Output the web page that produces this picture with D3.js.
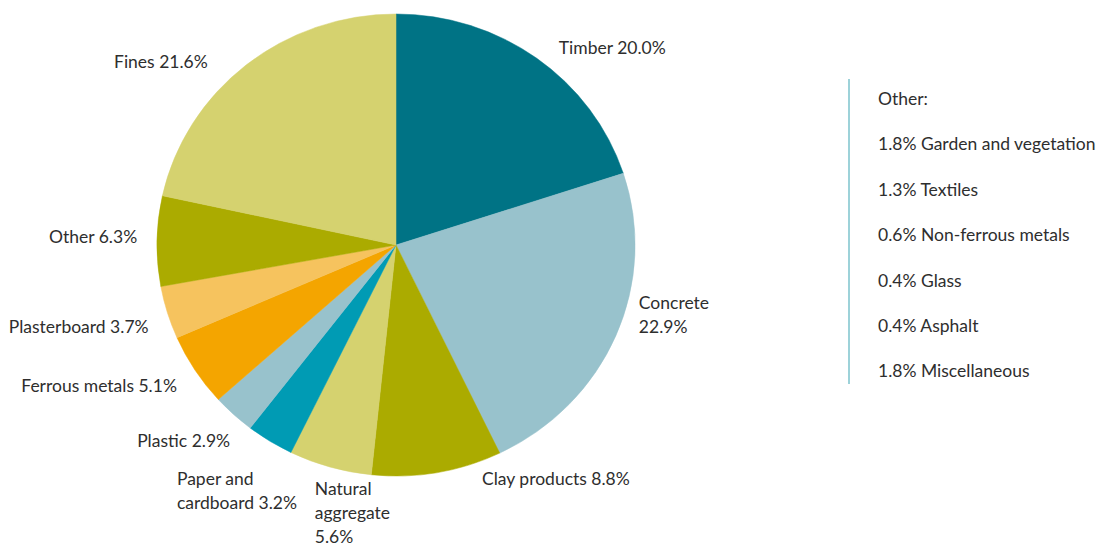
<!DOCTYPE html>
<html>
<head>
<meta charset="utf-8">
<script src="https://cdn.jsdelivr.net/npm/d3@7"></script>
<style>
  body { margin: 0; background: #fff; }
  text { font-family: Lato, "Open Sans", sans-serif; font-size: 17.5px; fill: #2e2e2e; }
</style>
</head>
<body>
<svg class="chart"></svg>
<script>
// waste composition, clockwise from 12 o'clock
var categories = ["Timber", "Concrete", "Clay products", "Natural aggregate", "Paper and cardboard",
  "Plastic", "Ferrous metals", "Plasterboard", "Other", "Fines"];
var shares = [20.0, 22.9, 8.8, 5.6, 3.2, 2.9, 5.1, 3.7, 6.3, 21.6];
var sliceColors = ["#007385", "#98c2cc", "#abab00", "#d5d26f", "#009bb4",
  "#98c2cc", "#f4a500", "#f6c35e", "#abab00", "#d5d26f"];
// how each label breaks into lines
var labelLines = [
  ["Timber 20.0%"], ["Concrete", "22.9%"], ["Clay products 8.8%"], ["Natural", "aggregate", "5.6%"],
  ["Paper and", "cardboard 3.2%"], ["Plastic 2.9%"], ["Ferrous metals 5.1%"], ["Plasterboard 3.7%"],
  ["Other 6.3%"], ["Fines 21.6%"]
];
var otherTitle = "Other:";
var otherNames = ["Garden and vegetation", "Textiles", "Non-ferrous metals", "Glass", "Asphalt", "Miscellaneous"];
var otherShares = [1.8, 1.3, 0.6, 0.4, 0.4, 1.8];

var ui = {
  width: 1102,
  height: 545,
  cx: 396,
  cy: 245,
  r: 231,
  stretch: 1.035,
  labelPad: 22,
  lineH: 24,
  legendX: 849,
  legendTop: 79,
  legendBottom: 384,
  legendStep: 45.4
};

// hand nudges [dx, dy, anchor] so labels sit like the original
var labelNudge = {
  "Timber": [9, 9, "start"],
  "Concrete": [2, -28, "start"],
  "Clay products": [41, -14, "start"],
  "Natural aggregate": [-9, 26, "start"],
  "Paper and cardboard": [-81, 32, "start"],
  "Plastic": [12, 11, "end"],
  "Ferrous metals": [1, 5, "end"],
  "Plasterboard": [3, 9, "end"],
  "Other": [3, -3, "end"],
  "Fines": [-24, 15, "end"]
};

var chart = d3.select(".chart")
  .attr("width", ui.width)
  .attr("height", ui.height);

var data = categories.map(function(c, i) {
  return { name: c, value: shares[i], color: sliceColors[i], lines: labelLines[i] };
});

var pie = d3.pie().sort(null).value(function(d) { return d.value; });
var arcs = pie(data);
var arc = d3.arc().innerRadius(0).outerRadius(ui.r);

var pieG = chart.append("g")
  .attr("transform", "translate(" + ui.cx + "," + ui.cy + ") scale(" + ui.stretch + ",1)");

pieG.selectAll("path")
  .data(arcs)
  .enter().append("path")
  .attr("d", arc)
  .style("fill", function(d) { return d.data.color; })
  .style("stroke", function(d) { return d.data.color; })
  .style("stroke-width", 0.5);

// labels outside the rim
var labels = chart.append("g").selectAll("text")
  .data(arcs)
  .enter().append("text")
  .attr("text-anchor", function(d) { return labelNudge[d.data.name][2]; })
  .attr("transform", function(d) {
    var a = (d.startAngle + d.endAngle) / 2;
    var rr = ui.r + ui.labelPad;
    var n = labelNudge[d.data.name];
    var x = ui.cx + Math.sin(a) * rr * ui.stretch + n[0];
    var y = ui.cy - Math.cos(a) * rr + n[1];
    var h = (d.data.lines.length - 1) * ui.lineH;
    y = y - h / 2 + 5;
    return "translate(" + x + "," + y + ")";
  });

labels.selectAll("tspan")
  .data(function(d) { return d.data.lines; })
  .enter().append("tspan")
  .attr("x", 0)
  .attr("dy", function(d, i) { return i ? ui.lineH : 0; })
  .text(function(d) { return d; });

// breakdown of "Other"
chart.append("line")
  .attr("x1", ui.legendX).attr("x2", ui.legendX)
  .attr("y1", ui.legendTop).attr("y2", ui.legendBottom)
  .style("stroke", "#7cc3cc")
  .style("stroke-width", 1.5);

var legendRows = [otherTitle].concat(otherNames.map(function(n, i) {
  return otherShares[i].toFixed(1) + "% " + n;
}));

chart.append("g").selectAll("text")
  .data(legendRows)
  .enter().append("text")
  .attr("x", ui.legendX + 29)
  .attr("y", function(d, i) { return ui.legendTop + 26 + i * ui.legendStep; })
  .text(function(d) { return d; });
</script>
</body>
</html>
